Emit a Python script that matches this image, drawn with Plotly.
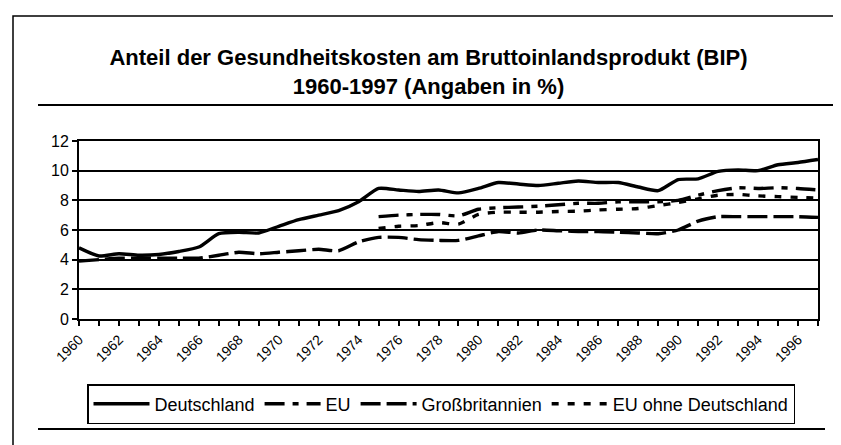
import plotly.graph_objects as go

years = list(range(1960, 1998))

deutschland = [4.8, 4.25, 4.4, 4.3, 4.35, 4.55, 4.85, 5.75, 5.85, 5.8,
               6.25, 6.7, 7.0, 7.3, 7.9, 8.8, 8.7, 8.6, 8.7, 8.5,
               8.8, 9.2, 9.1, 9.0, 9.15, 9.3, 9.2, 9.2, 8.9, 8.65,
               9.4, 9.45, 9.95, 10.05, 10.0, 10.4, 10.55, 10.75]

eu = [None] * 15 + [6.9, 7.0, 7.05, 7.05, 6.95, 7.4, 7.5, 7.55, 7.6, 7.7,
                    7.8, 7.8, 7.9, 7.9, 7.9, 8.0, 8.35, 8.65, 8.85, 8.8,
                    8.85, 8.8, 8.7]

grossbritannien = [3.9, 4.0, 4.1, 4.1, 4.1, 4.1, 4.1, 4.3, 4.5, 4.4,
                   4.5, 4.6, 4.7, 4.6, 5.2, 5.5, 5.5, 5.35, 5.3, 5.3,
                   5.6, 5.9, 5.8, 6.0, 5.95, 5.9, 5.9, 5.85, 5.8, 5.75,
                   6.0, 6.6, 6.9, 6.9, 6.9, 6.9, 6.9, 6.85]

eu_ohne_d = [None] * 15 + [6.1, 6.25, 6.3, 6.5, 6.4, 7.05, 7.2, 7.2, 7.2, 7.25,
                           7.27, 7.35, 7.4, 7.45, 7.65, 7.85, 8.1, 8.35, 8.4, 8.3,
                           8.25, 8.2, 8.15]

title_text = ("<b>Anteil der Gesundheitskosten am Bruttoinlandsprodukt (BIP)</b><br>"
              "<b>1960-1997 (Angaben in %)</b>")

W, H = 841, 445
L, R, T, B = 71, 31, 133, 134
PW, PH = W - L - R, H - T - B


def px_x(px):
    return (px - L) / PW


def px_y(py):
    return (H - B - py) / PH


FONT = "Arial, Liberation Sans, Helvetica, sans-serif"

fig = go.Figure()
fig.add_trace(go.Scatter(x=years, y=deutschland, name="Deutschland", mode="lines",
                         line=dict(color="black", width=3.4, shape="spline", smoothing=0.6)))
fig.add_trace(go.Scatter(x=years, y=eu, name="EU", mode="lines",
                         line=dict(color="black", width=3.4, shape="spline", smoothing=0.6,
                                   dash="20px,8px,6px,8px")))
fig.add_trace(go.Scatter(x=years, y=grossbritannien, name="Großbritannien", mode="lines",
                         line=dict(color="black", width=3.4, shape="spline", smoothing=0.6,
                                   dash="20px,6px")))
fig.add_trace(go.Scatter(x=years, y=eu_ohne_d, name="EU ohne Deutschland", mode="lines",
                         line=dict(color="black", width=3.4, shape="spline", smoothing=0.6,
                                   dash="7px,9px")))

shapes = [
    # outer frame
    dict(type="rect", xref="paper", yref="paper",
         x0=px_x(5), x1=px_x(836), y0=px_y(460), y1=px_y(8),
         line=dict(color="black", width=1.5), fillcolor="rgba(0,0,0,0)", layer="below"),
    # rule under title
    dict(type="line", xref="paper", yref="paper",
         x0=px_x(30), x1=px_x(828), y0=px_y(97), y1=px_y(97),
         line=dict(color="black", width=2)),
    # bottom rule
    dict(type="line", xref="paper", yref="paper",
         x0=px_x(30), x1=px_x(817), y0=px_y(421), y1=px_y(421),
         line=dict(color="black", width=2)),
]

fig.update_layout(
    width=W, height=H,
    margin=dict(l=L, r=R, t=T, b=B),
    paper_bgcolor="white", plot_bgcolor="white",
    font=dict(family=FONT, color="black"),
    title=dict(text=title_text, x=0.5, xref="container", xanchor="center",
               y=1 - 57 / H, yref="container", yanchor="middle",
               font=dict(family=FONT, size=22, color="black")),
    showlegend=True,
    legend=dict(orientation="h", xref="container", yref="container",
                x=79 / W, y=1 - 376 / H, xanchor="left", yanchor="top",
                itemwidth=56, font=dict(family=FONT, size=18, color="black"),
                bordercolor="black", borderwidth=1.5, bgcolor="white",
                traceorder="normal"),
    shapes=shapes,
)

fig.update_xaxes(range=[1960, 1997], tickmode="linear", tick0=1960, dtick=2,
                 ticks="outside", ticklen=5, tickwidth=1.5, tickcolor="black",
                 minor=dict(dtick=1, tick0=1960, ticks="outside", ticklen=5,
                            tickwidth=1.5, tickcolor="black", showgrid=False),
                 tickangle=-45, tickfont=dict(family=FONT, size=14, color="black"),
                 showgrid=False, zeroline=False, showline=True, linecolor="black",
                 linewidth=2, mirror=True)

fig.update_yaxes(range=[0, 12], tickmode="linear", tick0=0, dtick=2,
                 ticks="outside", ticklen=5, tickwidth=1.5, tickcolor="black",
                 tickfont=dict(family=FONT, size=16, color="black"),
                 showgrid=True, gridcolor="black", gridwidth=1.5,
                 zeroline=False, showline=True, linecolor="black",
                 linewidth=2, mirror=True)

fig.write_html("out.html")
